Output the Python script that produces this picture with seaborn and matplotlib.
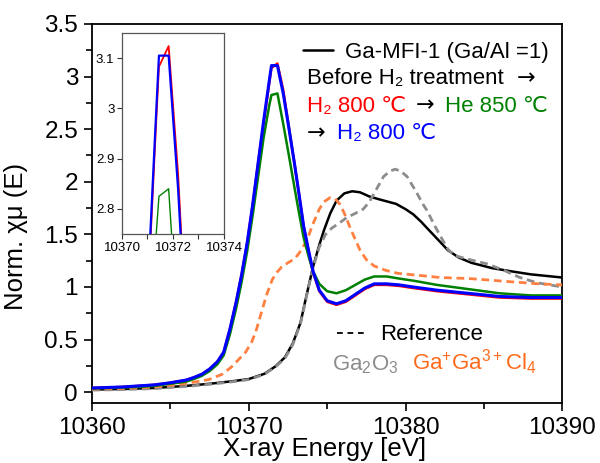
import matplotlib
matplotlib.use("Agg")
import matplotlib.pyplot as plt
import seaborn as sns
import pandas as pd
from matplotlib.lines import Line2D
from matplotlib.ticker import MultipleLocator, FuncFormatter

# ---------------- data ----------------
blue_e = [10360.0, 10361.0, 10362.0, 10363.0, 10364.0, 10365.0, 10366.0, 10366.5, 10367.0, 10367.5,
          10368.0, 10368.4, 10368.8, 10369.2, 10369.55, 10369.9, 10370.25, 10370.6, 10370.95, 10371.3,
          10371.45, 10371.83, 10372.2, 10372.55, 10372.9, 10373.2, 10373.5, 10373.8, 10374.1, 10374.5,
          10375.0, 10375.6, 10376.2, 10376.8, 10377.4, 10378.0, 10378.8, 10379.6, 10380.5, 10382.0,
          10384.0, 10386.0, 10388.0, 10390.0]
blue_v = [0.04, 0.045, 0.05, 0.06, 0.07, 0.09, 0.115, 0.14, 0.17, 0.22,
          0.29, 0.38, 0.60, 0.86, 1.12, 1.42, 1.78, 2.18, 2.58, 2.95,
          3.105, 3.105, 2.84, 2.52, 2.19, 1.89, 1.58, 1.36, 1.15, 0.97,
          0.87, 0.84, 0.87, 0.93, 0.99, 1.03, 1.03, 1.02, 1.00, 0.97,
          0.94, 0.91, 0.90, 0.90]

red_e = blue_e
red_v = [0.04, 0.045, 0.05, 0.06, 0.07, 0.09, 0.115, 0.14, 0.17, 0.22,
         0.29, 0.38, 0.60, 0.86, 1.12, 1.42, 1.78, 2.18, 2.56, 2.93,
         3.083, 3.124, 2.87, 2.53, 2.19, 1.89, 1.58, 1.35, 1.14, 0.96,
         0.86, 0.83, 0.86, 0.92, 0.98, 1.02, 1.02, 1.01, 0.99, 0.96,
         0.93, 0.90, 0.89, 0.89]

green_e = blue_e
green_v = [0.035, 0.04, 0.045, 0.05, 0.06, 0.08, 0.10, 0.125, 0.155, 0.20,
           0.265, 0.35, 0.55, 0.80, 1.05, 1.34, 1.68, 2.05, 2.42, 2.72,
           2.825, 2.84, 2.55, 2.26, 1.96, 1.71, 1.47, 1.30, 1.15, 1.03,
           0.96, 0.94, 0.97, 1.02, 1.07, 1.10, 1.10, 1.08, 1.06, 1.02,
           0.98, 0.94, 0.92, 0.92]

black_e = [10360.0, 10362.0, 10364.0, 10366.0, 10367.5, 10369.0, 10370.0, 10371.0, 10371.7, 10372.3,
           10372.8, 10373.3, 10373.7, 10374.1, 10374.5, 10374.8, 10375.2, 10375.6, 10376.1, 10376.6,
           10377.1, 10377.7, 10378.4, 10379.4, 10380.0, 10380.5, 10381.0, 10381.5, 10382.2, 10382.7,
           10383.4, 10384.2, 10385.5, 10386.7, 10388.0, 10390.0]
black_v = [0.025, 0.03, 0.04, 0.06, 0.08, 0.105, 0.125, 0.175, 0.245, 0.33,
           0.46, 0.66, 0.93, 1.19, 1.40, 1.54, 1.70, 1.82, 1.89, 1.91,
           1.90, 1.86, 1.83, 1.79, 1.74, 1.69, 1.62, 1.54, 1.43, 1.35,
           1.28, 1.23, 1.18, 1.15, 1.12, 1.09]

ga2o3_e = [10360.0, 10362.0, 10364.0, 10366.0, 10367.5, 10369.0, 10370.0, 10371.0, 10371.7, 10372.3,
           10372.8, 10373.3, 10373.7, 10374.1, 10374.5, 10374.9, 10375.3, 10375.8, 10376.25, 10376.8,
           10377.3, 10377.7, 10378.0, 10378.6, 10379.0, 10379.34, 10379.7, 10380.1, 10380.7, 10381.1,
           10381.4, 10381.8, 10382.2, 10382.7, 10383.1, 10384.1, 10385.2, 10386.25, 10387.3, 10388.4,
           10390.0]
ga2o3_v = [0.02, 0.025, 0.035, 0.055, 0.075, 0.10, 0.12, 0.17, 0.24, 0.32,
           0.45, 0.65, 0.92, 1.18, 1.38, 1.50, 1.56, 1.61, 1.66, 1.70,
           1.74, 1.81, 1.89, 2.05, 2.10, 2.12, 2.10, 2.05, 1.90, 1.79,
           1.72, 1.60, 1.49, 1.36, 1.30, 1.26, 1.22, 1.16, 1.09, 1.04,
           1.00]

gacl_e = [10360.0, 10362.0, 10364.0, 10365.3, 10366.5, 10367.45, 10368.3, 10368.9, 10369.35, 10369.8,
          10370.2, 10370.5, 10370.85, 10371.15, 10371.5, 10371.8, 10372.1, 10372.5, 10372.95, 10373.3,
          10373.7, 10374.1, 10374.5, 10374.8, 10375.2, 10375.5, 10375.8, 10376.1, 10376.45, 10376.8,
          10377.1, 10377.5, 10378.0, 10378.7, 10379.5, 10380.9, 10382.2, 10384.1, 10386.7, 10388.5,
          10390.0]
gacl_v = [0.03, 0.035, 0.05, 0.07, 0.095, 0.12, 0.17, 0.24, 0.31, 0.38,
          0.48, 0.60, 0.78, 0.93, 1.07, 1.14, 1.19, 1.23, 1.27, 1.34,
          1.44, 1.60, 1.74, 1.81, 1.85, 1.84, 1.79, 1.70, 1.57, 1.45,
          1.35, 1.26, 1.20, 1.16, 1.13, 1.11, 1.09, 1.08, 1.05, 1.03,
          1.02]

main_xticks = [10360, 10370, 10380, 10390]
main_yticks = [0, 0.5, 1, 1.5, 2, 2.5, 3, 3.5]
inset_xticks = [10370, 10372, 10374]
inset_yticks = [2.8, 2.9, 3.0, 3.1]

# ---------------- style ----------------
sns.set_theme(style="ticks")
plt.rcParams["font.family"] = ["Liberation Sans", "DejaVu Sans"]
plt.rcParams["mathtext.fontset"] = "custom"
plt.rcParams["mathtext.rm"] = "Liberation Sans"
plt.rcParams["mathtext.it"] = "Liberation Sans:italic"
plt.rcParams["mathtext.bf"] = "Liberation Sans:bold"
plt.rcParams["mathtext.default"] = "regular"
plt.rcParams["axes.edgecolor"] = "black"
plt.rcParams["xtick.color"] = "black"
plt.rcParams["ytick.color"] = "black"
plt.rcParams["text.color"] = "black"
plt.rcParams["axes.labelcolor"] = "black"

BLUE = "#0000ff"
RED = "#ff0000"
GREEN = "#008000"
GRAY = "#8c8c8c"
ORANGE = "#ff8040"
ORANGE_T = "#ff6a1a"

fig = plt.figure(figsize=(6.0, 4.63), dpi=100)
ax = fig.add_axes([0.1533, 0.1302, 0.7838, 0.8180])


def draw(a, e, v, color, lw, dashed=False, z=2):
    df = pd.DataFrame({"energy": e, "mu": v})
    n0 = len(a.lines)
    sns.lineplot(data=df, x="energy", y="mu", ax=a, color=color, lw=lw,
                 estimator=None, sort=False, zorder=z)
    for ln in a.lines[n0:]:
        if dashed:
            ln.set_linestyle((0, (2.8, 1.7)))
        ln.set_solid_capstyle("butt")
        ln.set_solid_joinstyle("round")


draw(ax, black_e, black_v, "black", 1.8, z=2)
draw(ax, ga2o3_e, ga2o3_v, GRAY, 2.0, dashed=True, z=3)
draw(ax, gacl_e, gacl_v, ORANGE, 2.0, dashed=True, z=3)
draw(ax, red_e, red_v, RED, 1.8, z=4)
draw(ax, green_e, green_v, GREEN, 1.8, z=5)
draw(ax, blue_e, blue_v, BLUE, 2.2, z=6)

ax.set_xlim(10360, 10390)
ax.set_ylim(-0.1, 3.5)
ax.set_xticks(main_xticks)
ax.set_yticks(main_yticks)
ax.xaxis.set_minor_locator(MultipleLocator(5))
ax.yaxis.set_minor_locator(MultipleLocator(0.25))
ax.xaxis.set_major_formatter(FuncFormatter(lambda v, p: f"{v:.0f}"))
ax.yaxis.set_major_formatter(FuncFormatter(lambda v, p: f"{v:g}"))
ax.tick_params(which="major", direction="out", length=6, width=1.2, labelsize=17.5, pad=4,
               top=False, right=False)
ax.tick_params(which="minor", direction="out", length=4, width=1.2, top=False, right=False)
for s in ax.spines.values():
    s.set_linewidth(1.3)
    s.set_color("black")
ax.set_xlabel("X-ray Energy [eV]", fontsize=18.5)
ax.set_ylabel("Norm. χμ (E)", fontsize=18.5)
ax.yaxis.set_label_coords(-0.136, 0.44)
ax.xaxis.set_label_coords(0.494, -0.09)

# ---------------- annotation / legend text ----------------
T = ax.transAxes
FS = 16
ARW = dict(fontsize=FS, va="baseline", family="DejaVu Sans", transform=T)
ax.add_line(Line2D([0.4486, 0.5124], [0.9313, 0.9313], transform=T, color="black", lw=1.8))
ax.text(0.538, 0.9094, "Ga-MFI-1 (Ga/Al =1)", transform=T, fontsize=FS, va="baseline")
ax.text(0.4565, 0.8416, "Before H₂ treatment", transform=T, fontsize=FS, va="baseline")
ax.text(0.904, 0.8416, "→", **ARW)
ax.text(0.4571, 0.7684, "H₂ 800 ℃", transform=T, fontsize=FS, va="baseline", color=RED)
ax.text(0.6880, 0.7684, "→", **ARW)
ax.text(0.7500, 0.7684, "He 850 ℃", transform=T, fontsize=FS, va="baseline", color=GREEN)
ax.text(0.4571, 0.6955, "→", **ARW)
ax.text(0.5209, 0.6955, "H₂ 800 ℃", transform=T, fontsize=FS, va="baseline", color=BLUE)

ax.add_line(Line2D([0.5203, 0.5875], [0.1833, 0.1833], transform=T, color="black", lw=1.3,
                   linestyle=(0, (3.2, 2.6))))
ax.text(0.6124, 0.1656, "Reference", transform=T, fontsize=FS, va="baseline")
ax.text(0.5097, 0.0863, "Ga$_2$O$_3$", transform=T, fontsize=FS, va="baseline", color=GRAY)
ax.text(0.6798, 0.0863, "Ga$^{+}$Ga$^{3+}$Cl$_4$", transform=T, fontsize=FS, va="baseline",
        color=ORANGE_T)

# ---------------- inset ----------------
axin = fig.add_axes([0.2033, 0.4946, 0.17, 0.4341])
draw(axin, red_e, red_v, RED, 1.3, z=2)
draw(axin, green_e, green_v, GREEN, 1.0, z=3)
draw(axin, blue_e, blue_v, BLUE, 1.6, z=4)
axin.set_xlim(10370, 10374)
axin.set_ylim(2.75, 3.15)
axin.set_xticks(inset_xticks)
axin.set_yticks(inset_yticks)
axin.xaxis.set_minor_locator(MultipleLocator(1))
axin.xaxis.set_major_formatter(FuncFormatter(lambda v, p: f"{v:.0f}"))
axin.yaxis.set_major_formatter(FuncFormatter(lambda v, p: f"{v:g}"))
axin.tick_params(which="both", direction="out", length=3.5, width=0.8, labelsize=9.5, pad=2,
                 top=False, right=False, colors="#333333", labelcolor="black")
axin.set_xlabel("")
axin.set_ylabel("")
for s in axin.spines.values():
    s.set_linewidth(0.9)
    s.set_color("#555555")

fig.savefig("out.png", dpi=100)
